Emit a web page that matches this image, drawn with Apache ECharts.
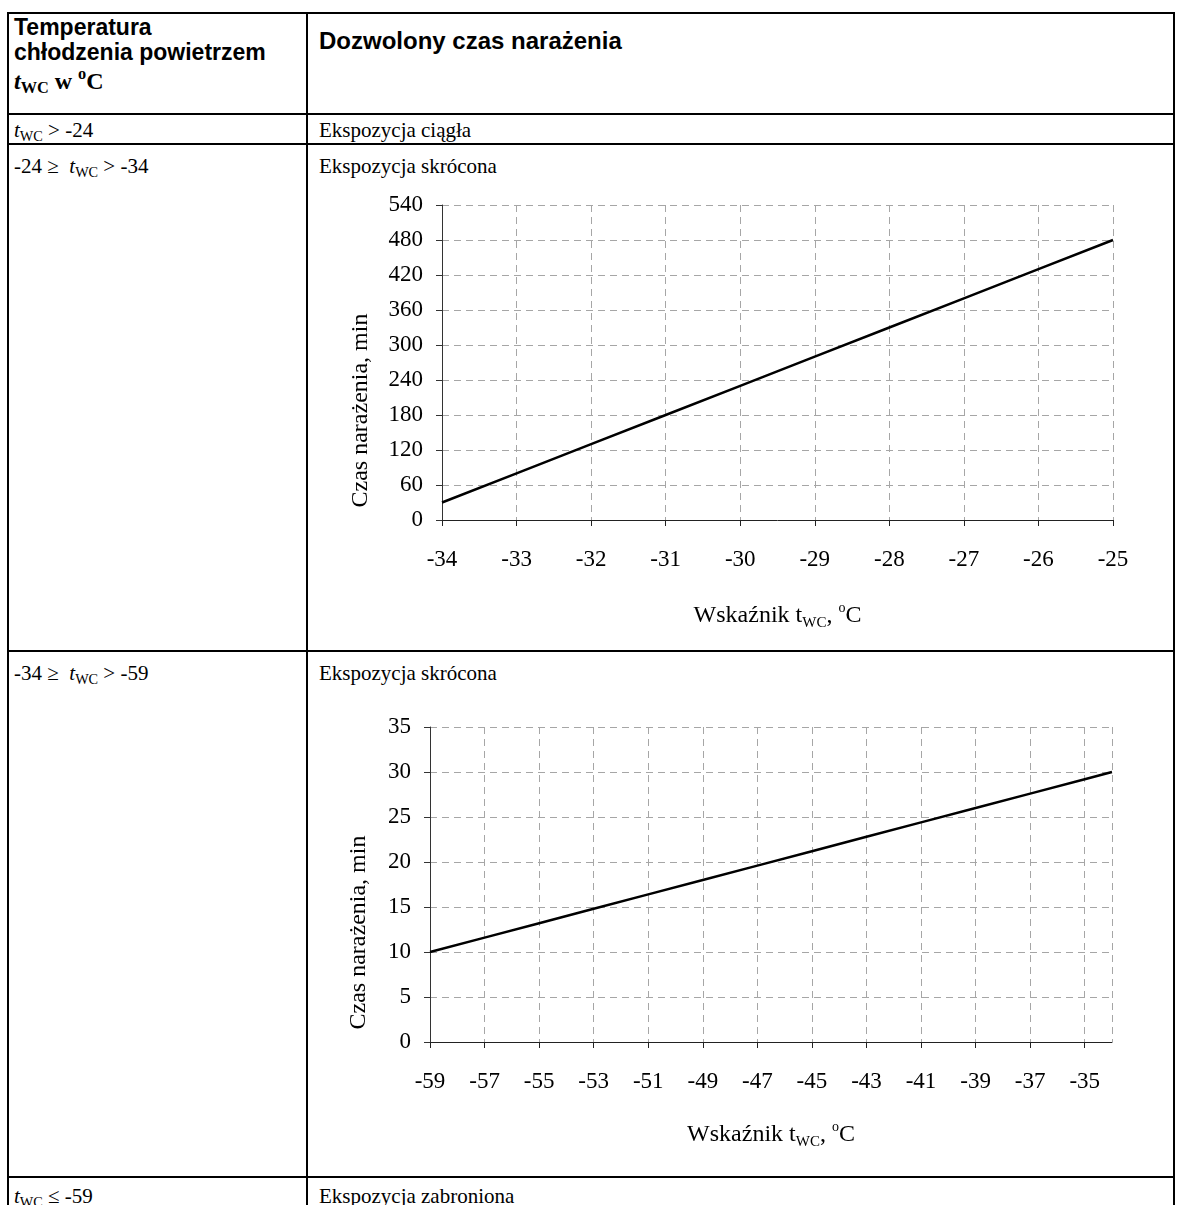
<!DOCTYPE html>
<html>
<head>
<meta charset="utf-8">
<script src="https://cdn.jsdelivr.net/npm/echarts@6/dist/echarts.min.js"></script>
<style>
  body { margin: 0; background: #fff; width: 1178px; height: 1205px; overflow: hidden; position: relative; }
  table {
    position: absolute; left: 7px; top: 12px; width: 1168px;
    border-collapse: collapse; table-layout: fixed;
    font-family: 'Liberation Serif', serif; font-size: 21px; color: #000;
  }
  td { border: 2px solid #000; padding: 0 6px 0 5px; vertical-align: top; line-height: 26px; box-sizing: border-box; }
  td + td { padding-left: 11px; }
  td.pad { padding-top: 8px; }
  .hd { font-family: 'Liberation Sans', sans-serif; font-weight: bold; font-size: 23px; line-height: 25px; }
  .hd .tnr { font-family: 'Liberation Serif', serif; font-size: 24px; line-height: 32px; }
  sub, sup { font-size: 0.68em; line-height: 0; }
  sub { vertical-align: -0.25em; }
  sup { vertical-align: 0.6em; }
  #chart { position: absolute; left: 0; top: 0; width: 1178px; height: 1205px; z-index: 2; }
</style>
</head>
<body>
<table>
  <colgroup><col style="width:299px"><col></colgroup>
  <tr style="height:101px">
    <td class="hd" style="padding-top:1px">Temperatura<br>chłodzenia powietrzem<br><span class="tnr"><i>t</i><sub>WC</sub> w <sup>o</sup>C</span></td>
    <td class="hd" style="padding-top:14px; font-size:24px">Dozwolony czas narażenia</td>
  </tr>
  <tr style="height:30px">
    <td style="padding-top:2px"><i>t</i><sub>WC</sub> &gt; -24</td>
    <td style="padding-top:2px">Ekspozycja ciągła</td>
  </tr>
  <tr style="height:507px">
    <td class="pad">-24 ≥&nbsp; <i>t</i><sub>WC</sub> &gt; -34</td>
    <td class="pad">Ekspozycja skrócona</td>
  </tr>
  <tr style="height:526px">
    <td class="pad">-34 ≥&nbsp; <i>t</i><sub>WC</sub> &gt; -59</td>
    <td class="pad">Ekspozycja skrócona</td>
  </tr>
  <tr style="height:40px">
    <td style="padding-top:5px"><i>t</i><sub>WC</sub> ≤ -59</td>
    <td style="padding-top:5px">Ekspozycja zabroniona</td>
  </tr>
</table>
<div id="chart"></div>
<script>
// -24 >= tWC > -34
const twc1 = [-34, -33, -32, -31, -30, -29, -28, -27, -26, -25];
const czas1 = [30, 80, 130, 180, 230, 280, 330, 380, 430, 480];
// -34 >= tWC > -59
const twc2 = [-59, -57, -55, -53, -51, -49, -47, -45, -43, -41, -39, -37, -35, -34];
const czas2 = [10, 11.6, 13.2, 14.8, 16.4, 18, 19.6, 21.2, 22.8, 24.4, 26, 27.6, 29.2, 30];

const yName = 'Czas narażenia, min';
const xName = '{n|Wskaźnik t}{sub|WC}{n|, }{sup|o}{n|C}';

const serif = 'Liberation Serif';
const gridLine = { show: true, lineStyle: { color: '#a6a6a6', type: [7, 5], width: 1 } };
const nameRich = {
  n: { fontFamily: serif, fontSize: 24, color: '#000', lineHeight: 30 },
  sub: { fontFamily: serif, fontSize: 15, color: '#000', verticalAlign: 'bottom' },
  sup: { fontFamily: serif, fontSize: 14, color: '#000', verticalAlign: 'top' }
};

function xAxis(idx, min, max, interval, gap) {
  return {
    type: 'value', gridIndex: idx, min: min, max: max, interval: interval,
    name: xName, nameLocation: 'middle', nameGap: gap,
    nameTextStyle: { rich: nameRich },
    axisLine: { onZero: false, lineStyle: { color: '#222', width: 1 } },
    axisTick: { length: 6, lineStyle: { color: '#222' } },
    axisLabel: { fontFamily: serif, fontSize: 23, color: '#000', margin: 28, showMaxLabel: idx === 0 },
    splitLine: gridLine
  };
}

function yAxis(idx, max, interval, gap) {
  return {
    type: 'value', gridIndex: idx, min: 0, max: max, interval: interval,
    name: yName, nameLocation: 'middle', nameGap: gap,
    nameTextStyle: { fontFamily: serif, fontSize: 24, color: '#000', padding: [0, 96, 0, 0] },
    axisLine: { show: true, lineStyle: { color: '#333', width: 1 } },
    axisTick: { show: true, length: 6, lineStyle: { color: '#333' } },
    axisLabel: { fontFamily: serif, fontSize: 23, color: '#000', margin: 19 },
    splitLine: gridLine
  };
}

const chart = echarts.init(document.getElementById('chart'), null, { renderer: 'canvas' });
chart.setOption({
  animation: false,
  backgroundColor: 'transparent',
  grid: [
    { left: 442, top: 205, width: 671, height: 315 },
    { left: 430, top: 727, width: 682, height: 315 }
  ],
  xAxis: [xAxis(0, -34, -25, 1, 81), xAxis(1, -59, -34, 2, 78)],
  yAxis: [yAxis(0, 540, 60, 69), yAxis(1, 35, 5, 59)],
  series: [
    {
      type: 'line', xAxisIndex: 0, yAxisIndex: 0, showSymbol: false, silent: true,
      lineStyle: { color: '#000', width: 2.5 },
      data: twc1.map((t, i) => [t, czas1[i]])
    },
    {
      type: 'line', xAxisIndex: 1, yAxisIndex: 1, showSymbol: false, silent: true,
      lineStyle: { color: '#000', width: 2.5 },
      data: twc2.map((t, i) => [t, czas2[i]])
    }
  ]
});
</script>
</body>
</html>
